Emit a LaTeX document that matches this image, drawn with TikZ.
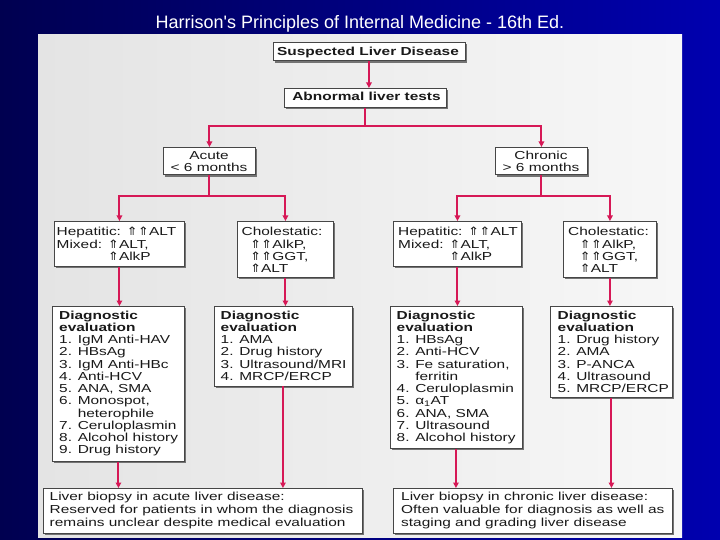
\documentclass[tikz,border=0pt]{standalone}
\usepackage{fontspec}
\setmainfont{Liberation Sans}[FakeStretch=1.33]
\newfontfamily\titlefont{Liberation Sans}
\newfontfamily\symfont{DejaVu Sans}[FakeStretch=1.15]
\usetikzlibrary{arrows.meta,shadows}
\definecolor{connc}{RGB}{214,24,86}
\definecolor{boxline}{RGB}{70,70,70}
\definecolor{txtc}{RGB}{25,25,25}
\newcommand\upar{{\symfont ⇑}}
\newcommand\tl[1]{\begin{tabular}[t]{@{}l@{}}#1\end{tabular}}
\newcommand\tc[1]{\begin{tabular}[t]{@{}c@{}}#1\end{tabular}}
\tikzset{
  box/.style={draw=boxline, line width=0.9pt, fill=white, inner sep=0pt, anchor=north west,
    drop shadow={shadow xshift=1.8pt, shadow yshift=-1.8pt, fill=black!55, opacity=1}},
  txt/.style={inner sep=0pt, text=txtc, font=\fontsize{11.6}{12.27}\selectfont},
  btxt/.style={txt, font=\fontsize{11.6}{12.27}\selectfont\bfseries},
  biotxt/.style={inner sep=0pt, text=txtc, font=\fontsize{11.6}{12.65}\selectfont},
  conn/.style={draw=connc, line width=2pt},
  arr/.style={conn, -{Triangle[length=5.5pt,width=5.5pt]}}
}
\begin{document}
\begin{tikzpicture}[x=1pt,y=-1pt]
\useasboundingbox (0,0) rectangle (720,540);
% background
\shade[left color={rgb,255:red,0;green,0;blue,80}, right color={rgb,255:red,0;green,0;blue,175}] (0,0) rectangle (720,540);
\shade[left color={rgb,255:red,228;green,228;blue,228}, right color={rgb,255:red,247;green,247;blue,247}] (38,35) rectangle (682,537);
% title
\node[inner sep=0pt, text=white, font=\titlefont\fontsize{18}{20}\selectfont, anchor=base] (title) at (360,29) {Harrison's Principles of Internal Medicine - 16th Ed.};
% boxes
\node[box, minimum width=192pt, minimum height=18.5pt] (sus) at (272.5,42) {};
\node[box, minimum width=162pt, minimum height=19pt] (abn) at (284,88) {};
\node[box, minimum width=92pt, minimum height=27.5pt] (acute) at (163,147) {};
\node[box, minimum width=92pt, minimum height=27.5pt] (chronic) at (495,147) {};
\node[box, minimum width=130pt, minimum height=45pt] (hepL) at (54,221) {};
\node[box, minimum width=96pt, minimum height=56pt] (cholL) at (237,221) {};
\node[box, minimum width=128pt, minimum height=45pt] (hepR) at (393,221) {};
\node[box, minimum width=93pt, minimum height=56pt] (cholR) at (563,221) {};
\node[box, minimum width=132pt, minimum height=155pt] (d1) at (52,306) {};
\node[box, minimum width=138pt, minimum height=79.5pt] (d2) at (213.5,306) {};
\node[box, minimum width=132pt, minimum height=142pt] (d3) at (389.5,306) {};
\node[box, minimum width=122pt, minimum height=91pt] (d4) at (550,306) {};
\node[box, minimum width=319pt, minimum height=45pt] (bioL) at (43,488) {};
\node[box, minimum width=279pt, minimum height=45pt] (bioR) at (393,488) {};
% texts
\node[btxt, anchor=base] (tsus) at (368,55.7) {Suspected Liver Disease};
\node[btxt, anchor=base] (tabn) at (366.5,101) {Abnormal liver tests};
\node[txt, anchor=base] (tacute) at (209,159.3) {\tc{Acute\\< 6 months}};
\node[txt, anchor=base] (tchronic) at (541,159.3) {\tc{Chronic\\> 6 months}};
\node[txt, anchor=base west] (thepL) at (56.5,236) {\tl{Hepatitic: \upar\upar ALT\\Mixed: \upar ALT,\\\phantom{Mixed: }\upar AlkP}};
\node[txt, anchor=base west] (tcholL) at (241.5,236) {\tl{Cholestatic:\\\hspace{8.3pt}\upar\upar AlkP,\\\hspace{8.3pt}\upar\upar GGT,\\\hspace{8.3pt}\upar ALT}};
\node[txt, anchor=base west] (thepR) at (398,236) {\tl{Hepatitic: \upar\upar ALT\\Mixed: \upar ALT,\\\phantom{Mixed: }\upar AlkP}};
\node[txt, anchor=base west] (tcholR) at (568,236) {\tl{Cholestatic:\\\hspace{11.5pt}\upar\upar AlkP,\\\hspace{11.5pt}\upar\upar GGT,\\\hspace{11.5pt}\upar ALT}};
\node[txt, anchor=base west] (td1) at (59,319) {\tl{\textbf{Diagnostic}\\\textbf{evaluation}\\1. IgM Anti-HAV\\2. HBsAg\\3. IgM Anti-HBc\\4. Anti-HCV\\5. ANA, SMA\\6. Monospot,\\\phantom{6. }heterophile\\7. Ceruloplasmin\\8. Alcohol history\\9. Drug history}};
\node[txt, anchor=base west] (td2) at (220.5,319) {\tl{\textbf{Diagnostic}\\\textbf{evaluation}\\1. AMA\\2. Drug history\\3. Ultrasound/MRI\\4. MRCP/ERCP}};
\node[txt, anchor=base west] (td3) at (396.5,319) {\tl{\textbf{Diagnostic}\\\textbf{evaluation}\\1. HBsAg\\2. Anti-HCV\\3. Fe saturation,\\\phantom{3. }ferritin\\4. Ceruloplasmin\\5. α\textsubscript{1}AT\\6. ANA, SMA\\7. Ultrasound\\8. Alcohol history}};
\node[txt, anchor=base west] (td4) at (557.5,319) {\tl{\textbf{Diagnostic}\\\textbf{evaluation}\\1. Drug history\\2. AMA\\3. P-ANCA\\4. Ultrasound\\5. MRCP/ERCP}};
\node[biotxt, anchor=base west] (tbioL) at (49.5,500.7) {\tl{Liver biopsy in acute liver disease:\\Reserved for patients in whom the diagnosis\\remains unclear despite medical evaluation}};
\node[biotxt, anchor=base west] (tbioR) at (401,500.7) {\tl{Liver biopsy in chronic liver disease:\\Often valuable for diagnosis as well as\\staging and grading liver disease}};
% connectors
\draw[arr] (sus.south) -- (sus.south |- abn.north);
\draw[arr] (abn.south) -- ++(0,18.5) -| (acute.north);
\draw[arr] (abn.south) -- ++(0,18.5) -| (chronic.north);
\draw[arr] (acute.south) -- ++(0,20.5) -| (hepL.north);
\draw[arr] (acute.south) -- ++(0,20.5) -| (cholL.north);
\draw[arr] (chronic.south) -- ++(0,20.5) -| (hepR.north);
\draw[arr] (chronic.south) -- ++(0,20.5) -| (cholR.north);
\draw[arr] (hepL.south) -- (hepL.south |- d1.north);
\draw[arr] (cholL.south) -- (cholL.south |- d2.north);
\draw[arr] (hepR.south) -- (hepR.south |- d3.north);
\draw[arr] (cholR.south) -- (cholR.south |- d4.north);
\draw[arr] (d1.south) -- (d1.south |- bioL.north);
\draw[arr] (d2.south) -- (d2.south |- bioL.north);
\draw[arr] (d3.south) -- (d3.south |- bioR.north);
\draw[arr] (d4.south) -- (d4.south |- bioR.north);
\end{tikzpicture}
\end{document}
